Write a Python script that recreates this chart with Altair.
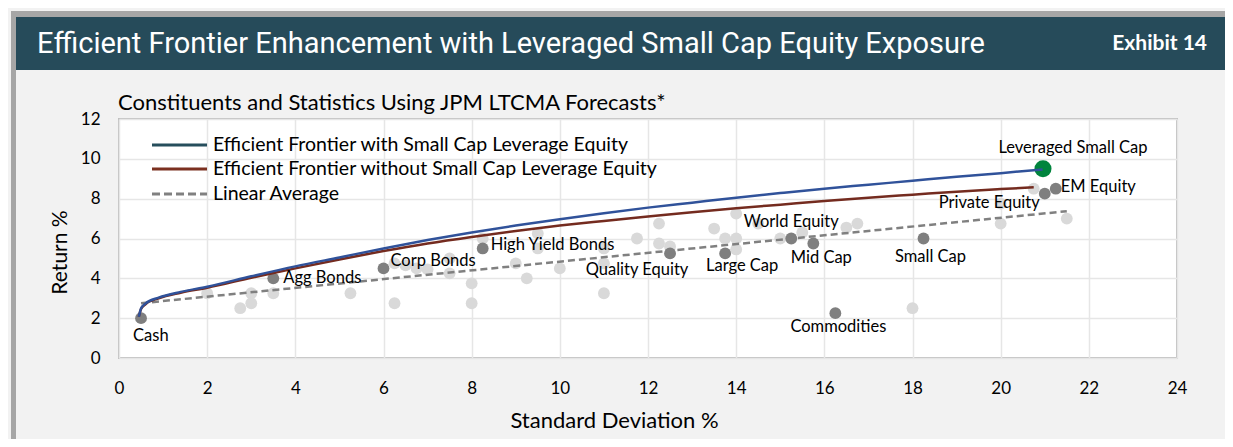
import altair as alt
import pandas as pd

# ---------------- data ----------------
asset_names = ["Cash", "Agg Bonds", "Corp Bonds", "High Yield Bonds", "Quality Equity",
               "Large Cap", "World Equity", "Mid Cap", "Small Cap", "Commodities",
               "Private Equity", "EM Equity"]
asset_sd = [0.5, 3.5, 6.0, 8.25, 12.5, 13.75, 15.25, 15.75, 18.25, 16.25, 21.0, 21.25]
asset_ret = [2.0, 4.0, 4.5, 5.5, 5.25, 5.25, 6.0, 5.75, 6.0, 2.25, 8.25, 8.5]

lev_names = ["Leveraged Small Cap"]
lev_sd = [20.96]
lev_ret = [9.5]

other_sd = [2.0, 2.75, 3.0, 3.0, 3.5, 5.25, 6.25, 6.25, 6.5, 6.75, 7.0, 7.5, 7.5, 8.0, 8.0,
            8.25, 9.0, 9.25, 9.5, 9.5, 10.0, 11.0, 11.0, 11.0, 11.75, 12.25, 12.25, 12.5,
            13.5, 13.75, 14.0, 14.0, 14.0, 14.5, 15.0, 15.5, 16.5, 16.75, 18.0, 20.0, 20.0,
            20.75, 21.5]
other_ret = [3.25, 2.5, 3.25, 2.75, 3.25, 3.25, 2.75, 4.75, 4.65, 4.5, 4.45, 5.0, 4.25, 3.75,
             2.75, 6.0, 4.75, 4.0, 6.25, 5.5, 4.5, 5.5, 4.75, 3.25, 6.0, 6.75, 5.75, 5.6,
             6.5, 6.0, 7.25, 6.0, 5.45, 6.75, 6.0, 6.3, 6.55, 6.75, 2.5, 6.75, 7.75,
             8.5, 7.0]

with_sd = [0.45, 0.5, 0.6, 0.9, 1.4, 2.0, 3.0, 4.0, 5.0, 6.0, 7.0, 8.0, 9.0, 10.0, 11.0,
           12.0, 13.0, 14.0, 15.0, 16.0, 17.0, 18.0, 19.0, 20.0, 20.95]
with_ret = [2.07, 2.48, 2.73, 3.03, 3.32, 3.58, 4.1, 4.6, 5.05, 5.5, 5.92, 6.3, 6.65, 6.97,
            7.27, 7.55, 7.8, 8.05, 8.28, 8.5, 8.7, 8.9, 9.1, 9.28, 9.47]

without_sd = [0.45, 0.5, 0.6, 0.9, 1.4, 2.0, 3.0, 4.0, 5.0, 6.0, 7.0, 8.0, 9.0, 10.0, 11.0,
              12.0, 13.0, 14.0, 15.0, 16.0, 17.0, 18.0, 19.0, 20.0, 20.75]
without_ret = [2.07, 2.46, 2.7, 3.0, 3.28, 3.53, 4.03, 4.5, 4.95, 5.37, 5.75, 6.08, 6.38,
               6.65, 6.88, 7.1, 7.32, 7.52, 7.7, 7.88, 8.05, 8.2, 8.35, 8.48, 8.57]

avg_sd = [0.5, 21.5]
avg_ret = [2.75, 7.37]

legend_labels = ["Efficient Frontier with Small Cap Leverage Equity",
                 "Efficient Frontier without Small Cap Leverage Equity",
                 "Linear Average"]

title_text = "Efficient Frontier Enhancement with Leveraged Small Cap Equity Exposure"
exhibit_text = "Exhibit 14"
subtitle_text = "Constituents and Statistics Using JPM LTCMA Forecasts*"
x_title = "Standard Deviation %"
y_title = "Return %"
x_ticks = [0, 2, 4, 6, 8, 10, 12, 14, 16, 18, 20, 22, 24]
y_ticks = [0, 2, 4, 6, 8, 10, 12]

# ---------------- styling ----------------
FONT = "Lato"
W, H = 1058, 239
HEADER = "#264b5a"
FRAME = "#a6a6a6"
BLUE = "#30529a"
BROWN = "#742b1f"
DASH = "#808080"
DARK = "#7f7f7f"
LIGHT = "#d9d9d9"
GREEN = "#00843d"

assets = pd.DataFrame({"name": asset_names, "sd": asset_sd, "ret": asset_ret})
lev = pd.DataFrame({"name": lev_names, "sd": lev_sd, "ret": lev_ret})
others = pd.DataFrame({"sd": other_sd, "ret": other_ret})
with_df = pd.DataFrame({"sd": with_sd, "ret": with_ret})
without_df = pd.DataFrame({"sd": without_sd, "ret": without_ret})
avg_df = pd.DataFrame({"sd": avg_sd, "ret": avg_ret})

xs = alt.Scale(domain=[0, 24], nice=False, zero=False)
ys = alt.Scale(domain=[0, 12], nice=False, zero=False)

x_axis = alt.Axis(values=x_ticks, title=x_title, grid=True, gridColor="#e6e6e6",
                  gridWidth=1.5, ticks=False, tickSize=0, domain=False,
                  labelFont=FONT, labelFontSize=17, labelColor="black",
                  labelPadding=30, labelBaseline="middle", labelFlush=False,
                  titleFont=FONT, titleFontSize=22, titleFontWeight="normal",
                  titleColor="black", titleX=495, titleY=62, titleBaseline="middle",
                  titleAlign="center")
y_axis = alt.Axis(values=y_ticks, title=y_title, grid=True, gridColor="#e6e6e6",
                  gridWidth=1.5, ticks=False, tickSize=0, domain=False,
                  labelFont=FONT, labelFontSize=17, labelColor="black",
                  labelPadding=19, labelFlush=False,
                  titleFont=FONT, titleFontSize=21, titleFontWeight="normal",
                  titleColor="black", titleX=-59, titleY=133, titleAngle=-90,
                  titleBaseline="middle", titleAlign="center")


def X():
    return alt.X("sd:Q", scale=xs, axis=x_axis)


def Y():
    return alt.Y("ret:Q", scale=ys, axis=y_axis)


layers = []

light = alt.Chart(others).mark_circle(size=140, color=LIGHT, opacity=1).encode(x=X(), y=Y())
layers.append(light)

dark = alt.Chart(assets).mark_circle(size=140, color=DARK, opacity=1).encode(x=X(), y=Y())
layers.append(dark)

green = alt.Chart(lev).mark_circle(size=290, color=GREEN, opacity=1).encode(x=X(), y=Y())
layers.append(green)

avg_line = alt.Chart(avg_df).mark_line(color=DASH, strokeWidth=2.5, strokeDash=[7, 4]).encode(
    x=X(), y=Y(), order="sd:Q")
without_line = alt.Chart(without_df).mark_line(color=BROWN, strokeWidth=2.5,
                                               interpolate="monotone").encode(
    x=X(), y=Y(), order="sd:Q")
with_line = alt.Chart(with_df).mark_line(color=BLUE, strokeWidth=2.5,
                                         interpolate="monotone").encode(
    x=X(), y=Y(), order="sd:Q")
layers += [avg_line, without_line, with_line]

# point labels: (align, dx, dy)
label_style = {
    "Cash": ("left", -8, 18),
    "Agg Bonds": ("left", 10, 0),
    "Corp Bonds": ("left", 7, -7),
    "High Yield Bonds": ("left", 8, -3),
    "Quality Equity": ("center", -33, 17),
    "Large Cap": ("center", 17, 13),
    "World Equity": ("center", 0, -17),
    "Mid Cap": ("center", 8, 15),
    "Small Cap": ("center", 7, 18),
    "Commodities": ("center", 3, 14),
    "Private Equity": ("right", -5, 9),
    "EM Equity": ("left", 5, -2),
}
for nm, (al, dx, dy) in label_style.items():
    layers.append(
        alt.Chart(assets).transform_filter(alt.datum.name == nm).mark_text(
            align=al, baseline="middle", dx=dx, dy=dy, font=FONT, fontSize=16.5,
            color="black").encode(x=X(), y=Y(), text="name:N"))
layers.append(
    alt.Chart(lev).mark_text(align="center", baseline="middle", dx=30, dy=-21, font=FONT,
                             fontSize=16.5, color="black").encode(x=X(), y=Y(), text="name:N"))

# legend (manual, top-left inside plot)
leg_colors = ["#264e5c", "#7b3020", DASH]
leg_dash = [[1, 0], [1, 0], [8, 4]]
leg_y = [26, 50, 75]
for i, lab in enumerate(legend_labels):
    d = pd.DataFrame({"label": [lab]})
    layers.append(alt.Chart(d).mark_rule(color=leg_colors[i], strokeWidth=3,
                                         strokeDash=leg_dash[i]).encode(
        x=alt.value(33), x2=alt.value(88), y=alt.value(leg_y[i])))
    layers.append(alt.Chart(d).mark_text(align="left", baseline="middle", font=FONT,
                                         fontSize=19.5, color="black").encode(
        x=alt.value(94), y=alt.value(leg_y[i]), text="label:N"))

# header band, frame, subtitle
one = pd.DataFrame({"t": [title_text], "e": [exhibit_text], "s": [subtitle_text]})
layers.append(alt.Chart(one).mark_rect(color=FRAME).encode(
    x=alt.value(-108), x2=alt.value(1106), y=alt.value(-108), y2=alt.value(-102)))
layers.append(alt.Chart(one).mark_rect(color=FRAME).encode(
    x=alt.value(-108), x2=alt.value(-103), y=alt.value(-108), y2=alt.value(320)))
layers.append(alt.Chart(one).mark_rect(color=HEADER).encode(
    x=alt.value(-103), x2=alt.value(1106), y=alt.value(-102), y2=alt.value(-49)))
layers.append(alt.Chart(one).mark_text(align="left", baseline="middle", font="Roboto",
                                       fontSize=29, color="white").encode(
    x=alt.value(-82), y=alt.value(-75), text="t:N"))
layers.append(alt.Chart(one).mark_text(align="right", baseline="middle", font=FONT,
                                       fontSize=21, fontWeight="bold", color="white").encode(
    x=alt.value(1088), y=alt.value(-75), text="e:N"))
layers.append(alt.Chart(one).mark_text(align="left", baseline="middle", font=FONT,
                                       fontSize=22, color="black").encode(
    x=alt.value(-1), y=alt.value(-16), text="s:N"))

chart = alt.layer(*layers).properties(
    width=W, height=H,
    padding={"left": 111, "top": 111, "right": 48, "bottom": 81},
    autosize=alt.AutoSizeParams(type="none"),
    background="#f2f2f2",
).configure_view(fill="white", stroke="#bfbfbf", strokeWidth=2)

chart.save("out.html", embed_options={"renderer": "svg", "actions": False})
